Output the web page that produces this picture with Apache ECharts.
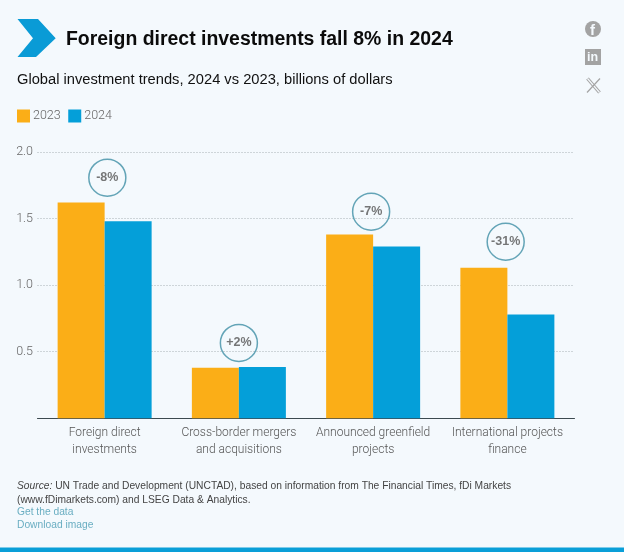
<!DOCTYPE html>
<html><head><meta charset="utf-8">
<style>html,body{margin:0;padding:0;background:#f4f9fd}#c{width:624px;height:552px}</style>
<script src="https://cdn.jsdelivr.net/npm/echarts@6/dist/echarts.min.js"></script>
</head><body><div id="c"></div>
<script>
const categories = ['Foreign direct\ninvestments','Cross-border mergers\nand acquisitions','Announced greenfield\nprojects','International projects\nfinance'];
const values2023 = [1.62, 0.38, 1.38, 1.13];
const values2024 = [1.48, 0.385, 1.29, 0.78];
const changeLabels = ['-8%', '+2%', '-7%', '-31%'];
const bubbleHeights = [1.807, 0.566, 1.552, 1.326];
const bubbleShift = [2.7, 0, -2, -1.7];
const yTicks = {min: 0, max: 2, interval: 0.5};

const F = '"Liberation Sans", Arial, sans-serif';
const N = 'Roboto, "Liberation Sans", Arial, sans-serif';
const chart = echarts.init(document.getElementById('c'), null, {renderer: 'canvas'});
chart.setOption({
  animation: false,
  backgroundColor: '#f4f9fd',
  textStyle: {fontFamily: F},
  title: [
    {text: 'Foreign direct investments fall 8% in 2024', left: 66, top: 30, padding: 0,
      textStyle: {fontFamily: F, fontSize: 19.45, fontWeight: 'bold', color: '#0b0b0b'}},
    {text: 'Global investment trends, 2024 vs 2023, billions of dollars', left: 17, top: 72.5, padding: 0,
      textStyle: {fontFamily: F, fontSize: 14.7, fontWeight: 'normal', color: '#111'}}
  ],
  legend: {left: 17, top: 109.5, padding: 0, itemWidth: 13, itemHeight: 13, itemGap: 7.5, icon: 'rect', selectedMode: false,
    data: ['2023', '2024'],
    textStyle: {fontFamily: N, fontWeight: 300, fontSize: 12.5, color: '#666', padding: [0, 0, 0, -2]}},
  grid: {left: 37.5, width: 537, top: 152, height: 266.3, containLabel: false},
  xAxis: {type: 'category', data: categories,
    axisTick: {show: false},
    axisLine: {lineStyle: {color: '#3c4a50', width: 1}},
    axisLabel: {fontFamily: N, fontWeight: 300, fontSize: 12, color: '#555', lineHeight: 17, margin: 6, interval: 0}},
  yAxis: {type: 'value', min: yTicks.min, max: yTicks.max, interval: yTicks.interval,
    axisLine: {show: false}, axisTick: {show: false},
    axisLabel: {fontFamily: N, fontWeight: 300, fontSize: 12.5, color: '#666', margin: 4.5,
      formatter: v => v === 0 ? '' : v.toFixed(1)},
    splitLine: {lineStyle: {type: [1, 2], color: '#a9b1b5', width: 1}}},
  series: [
    {name: '2023', type: 'bar', data: values2023, barWidth: 47, barGap: '0%', itemStyle: {color: '#fbae17'}},
    {name: '2024', type: 'bar', data: values2024, barWidth: 47, itemStyle: {color: '#049fd9'}},
    {name: 'change', type: 'scatter', data: bubbleHeights.map((v, i) => ({
        value: v, symbolOffset: [bubbleShift[i], 0],
        label: {show: true, position: 'inside', formatter: changeLabels[i],
          fontFamily: F, fontSize: 12.5, fontWeight: 'bold', color: '#555'}
      })),
      symbol: 'circle', symbolSize: 37, z: 5, silent: true,
      itemStyle: {color: 'rgba(244,249,253,0)', borderColor: '#3f8fa5', borderWidth: 1.5}}
  ],
  graphic: [
    {type: 'polygon', shape: {points: [[17.5,19],[38,19],[55.7,38.2],[36,57],[17.5,57],[33,38.2]]}, style: {fill: '#0a9bd6'}},
    {type: 'text', left: 17, top: 479, style: {fontFamily: F, fontSize: 10.25, lineHeight: 14, fill: '#444',
      rich: {i: {fontStyle: 'italic', fontFamily: F, fontSize: 10.25, lineHeight: 14, fill: '#444'}},
      text: '{i|Source:} UN Trade and Development (UNCTAD), based on information from The Financial Times, fDi Markets\n(www.fDimarkets.com) and LSEG Data & Analytics.'}},
    {type: 'text', left: 17, top: 506, style: {fontFamily: F, fontSize: 10.25, lineHeight: 12.5, fill: '#6aaec2', text: 'Get the data\nDownload image'}},
    {type: 'rect', shape: {x: 0, y: 547.5, width: 624, height: 4.5}, style: {fill: '#0a9fd8'}},
    {type: 'circle', shape: {cx: 593, cy: 29, r: 8}, style: {fill: '#a3a3a3'}},
    {type: 'text', left: 590, top: 23, style: {text: 'f', fontFamily: F, fontWeight: 'bold', fontSize: 15, fill: '#f4f9fd'}},
    {type: 'rect', shape: {x: 585, y: 49, width: 16, height: 16}, style: {fill: '#a3a3a3'}},
    {type: 'text', left: 587, top: 51, style: {text: 'in', fontFamily: F, fontWeight: 'bold', fontSize: 12.5, fill: '#f4f9fd'}},
    {type: 'line', shape: {x1: 587.5, y1: 78.5, x2: 599.5, y2: 92.5}, style: {stroke: '#a3a3a3', lineWidth: 3.4}},
    {type: 'line', shape: {x1: 587.5, y1: 78.5, x2: 599.5, y2: 92.5}, style: {stroke: '#f4f9fd', lineWidth: 1.2}},
    {type: 'line', shape: {x1: 600, y1: 78.5, x2: 587, y2: 92.5}, style: {stroke: '#a3a3a3', lineWidth: 1.2}}
  ]
});
</script></body></html>
